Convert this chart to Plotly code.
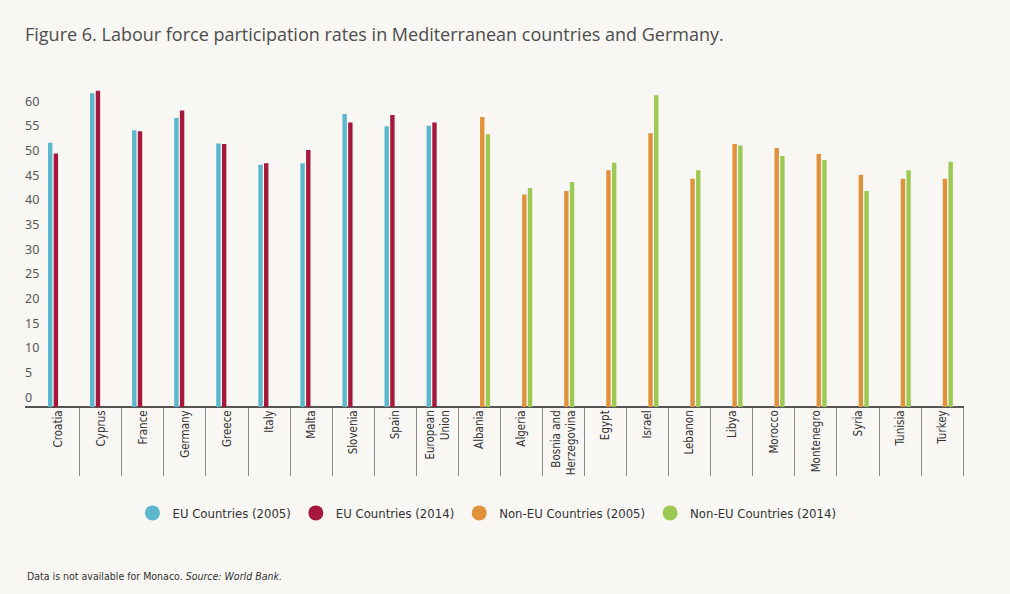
import plotly.graph_objects as go

countries = ["Croatia", "Cyprus", "France", "Germany", "Greece", "Italy", "Malta",
             "Slovenia", "Spain", "European<br>Union", "Albania", "Algeria",
             "Bosnia and<br>Herzegovina", "Egypt", "Israel", "Lebanon", "Libya",
             "Morocco", "Montenegro", "Syria", "Tunisia", "Turkey"]
eu_countries = countries[:10]
non_eu_countries = countries[10:]

eu_2005 = [53.6, 63.6, 56.1, 58.6, 53.4, 49.1, 49.4, 59.4, 56.9, 57.0]
eu_2014 = [51.4, 64.1, 55.9, 60.1, 53.3, 49.4, 52.1, 57.7, 59.2, 57.7]
non_eu_2005 = [58.8, 43.1, 43.8, 48.0, 55.5, 46.3, 53.3, 52.5, 51.3, 47.1, 46.3, 46.3]
non_eu_2014 = [55.3, 44.4, 45.6, 49.5, 63.2, 48.0, 53.0, 50.9, 50.1, 43.8, 48.0, 49.7]

y_ticks = list(range(0, 61, 5))

series = [
    ("EU Countries (2005)", eu_countries, eu_2005, "#5bb7cb"),
    ("EU Countries (2014)", eu_countries, eu_2014, "#a5183c"),
    ("Non-EU Countries (2005)", non_eu_countries, non_eu_2005, "#e0913a"),
    ("Non-EU Countries (2014)", non_eu_countries, non_eu_2014, "#9cc954"),
]

fig = go.Figure()
for name, xs, ys, color in series:
    fig.add_trace(go.Bar(x=xs, y=ys, name=name, marker=dict(color=color, line=dict(width=0)),
                         showlegend=False))
for name, xs, ys, color in series:
    fig.add_trace(go.Scatter(x=[None], y=[None], mode="markers", name=name,
                             marker=dict(color=color, size=15, symbol="circle")))

BG = "#f8f7f3"
narrow = "Liberation Sans Narrow, DejaVu Sans Condensed, Roboto, sans-serif"

fig.update_layout(
    width=1010, height=594,
    paper_bgcolor=BG, plot_bgcolor=BG,
    margin=dict(l=25, r=46, t=80, b=187),
    barmode="group", bargap=0.458, bargroupgap=0.23,
    title=dict(text="Figure 6. Labour force participation rates in Mediterranean countries and Germany.",
               x=25 / 1010, xanchor="left", y=1 - 35 / 594, yanchor="middle",
               font=dict(family="Open Sans", size=18, color="#4d4d4d")),
    legend=dict(orientation="h", x=0.492, xanchor="center", y=-0.324, yanchor="middle",
                font=dict(family=narrow, size=13, color="#333333"),
                bgcolor="rgba(0,0,0,0)", itemwidth=30),
    xaxis=dict(type="category", categoryorder="array", categoryarray=countries,
               range=[-0.802, 21.52], showgrid=False, zeroline=False,
               showline=False,
               ticks="outside", tickson="boundaries", ticklen=68, tickcolor="#8a8a8a", tickwidth=1,
               tickangle=-90,
               tickfont=dict(family=narrow, size=11.5, color="#333333")),
    yaxis=dict(range=[0, 66.3], tickvals=y_ticks, showgrid=False,
               zeroline=True, zerolinecolor="#555555", zerolinewidth=2, showline=False,
               ticks="", ticklabelposition="inside top", ticklabelshift=-1, ticklabelstandoff=-3,
               tickfont=dict(family="Noto Sans", size=12.5, color="#555555")),
)

fig.add_annotation(text="Data is not available for Monaco. <i>Source: World Bank.</i>",
                   xref="paper", yref="paper", x=0, y=-0.517, xanchor="left", yanchor="middle",
                   showarrow=False, font=dict(family=narrow, size=10.5, color="#333333"))

fig.write_html("out.html", config={"displayModeBar": False},
               post_script="document.body.style.margin='0';document.body.style.background='#f8f7f3';")
